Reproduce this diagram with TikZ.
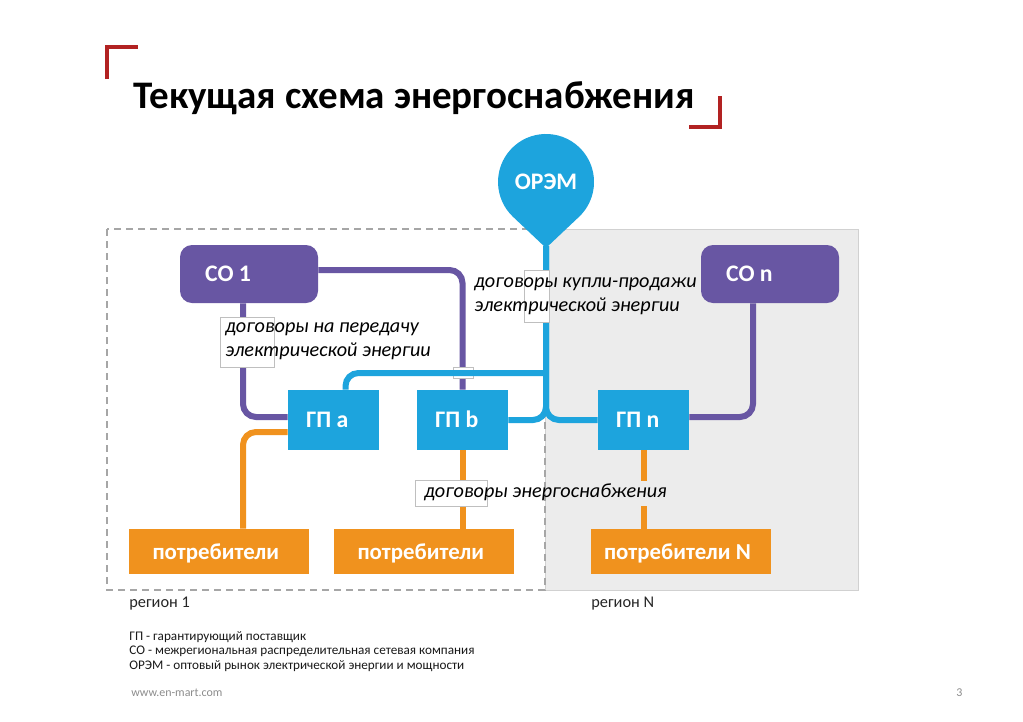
\documentclass[tikz,border=0pt]{standalone}
\usepackage{fontspec}
\setmainfont{Carlito}
\usetikzlibrary{positioning}

\definecolor{copurple}{RGB}{104,86,163}
\definecolor{gpblue}{RGB}{29,164,221}
\definecolor{consorange}{RGB}{240,146,30}
\definecolor{regiongray}{RGB}{236,236,236}
\definecolor{cornerred}{RGB}{178,34,34}

\tikzset{
  boxfont/.style={text=white, font=\fontsize{13.5}{15}\selectfont\bfseries, text height=8.7pt, text depth=0pt},
  cobox/.style={boxfont, fill=copurple, rounded corners=2.4mm, minimum height=11.6mm,
    inner xsep=5mm, text width=17.6mm, align=flush left},
  gpbox/.style={boxfont, fill=gpblue, minimum height=12mm,
    inner xsep=3.6mm, text width=11mm, align=flush left},
  consbox/.style={boxfont, font=\fontsize{13}{15}\selectfont\bfseries, fill=consorange, minimum height=9mm,
    inner xsep=4.8mm, text width=26.4mm, align=flush left},
  pline/.style={draw=copurple, line width=1.2mm, rounded corners=2.6mm},
  bline/.style={draw=gpblue, line width=1.2mm, rounded corners=2.6mm},
  oline/.style={draw=consorange, line width=1.2mm, rounded corners=2.6mm},
  tagbox/.style={fill=white, draw=black!25, line width=0.2mm},
  deal/.style={font=\fontsize{11.5}{13.6}\selectfont\itshape, align=flush left, anchor=west, inner sep=0pt},
  regionlabel/.style={font=\fontsize{9.3}{11}\selectfont, text=black!85, anchor=base west, inner sep=0pt},
}

\begin{document}
\begin{tikzpicture}[x=0.2mm, y=-0.2mm]
  % page
  \fill[white] (0,0) rectangle (1023,721);
  \useasboundingbox (0,0) rectangle (1023,721);

  % corners and title
  \draw[cornerred, line width=0.7mm] (107,79) -- (107,47) -- (138,47);
  \draw[cornerred, line width=0.7mm] (689,127) -- (720,127) -- (720,96);
  \node[font=\fontsize{22.2}{26}\selectfont\bfseries, anchor=base west, inner sep=0pt] (title) at (133,108) {Текущая схема энергоснабжения};

  % regions
  \draw[fill=regiongray, draw=black!18, line width=0.2mm] (545,229) rectangle (858,590);
  \draw[black!35, line width=0.25mm, dash pattern=on 1.4mm off 1mm] (107,229) rectangle (545,590);
  \node[regionlabel] (region1) at (129,607) {регион 1};
  \node[regionlabel] (regionN) at (591,607) {регион N};

  % market drop
  \fill[gpblue] (546,248) -- (513.1,216.9) arc[start angle=133.3, end angle=406.7, radius=48] -- cycle;
  \node[boxfont] (orem) at (546,182) {ОРЭМ};
  \coordinate (oremtip) at (546,246);
  \coordinate (split) at (546,373);

  % boxes
  \node[cobox] (co1) at (249,274) {СО 1};
  \node[cobox] (con) at (770,274) {СО n};
  \node[gpbox] (gpa) at (333.5,420) {ГП a};
  \node[gpbox] (gpb) at (462.5,420) {ГП b};
  \node[gpbox] (gpn) at (643.5,420) {ГП n};
  \node[consbox] (cons1) at (218.5,551.5) {потребители};
  \node[consbox] (cons2) at (423.5,551.5) {потребители};
  \node[consbox, inner xsep=2.6mm, text width=30.8mm] (cons3) at (681,551.5) {потребители N};

  % grid contracts
  \draw[pline] ([xshift=-1.2mm]co1.south) |- ([yshift=0.6mm]gpa.west);
  \draw[pline] ([yshift=0.8mm]co1.east) -| (gpb.north);
  \draw[pline] ([xshift=-3.4mm]con.south) |- ([yshift=0.6mm]gpn.east);

  % supply contracts
  \draw[oline] ([yshift=-2.4mm]gpa.west) -| ([xshift=4.9mm]cons1.north);
  \draw[oline] (gpb.south) -- (gpb.south |- cons2.north);
  \draw[oline] (gpn.south) -- (gpn.south |- cons3.north);
  \fill[regiongray] (636,481) rectangle (651,506);

  % market contracts
  \draw[tagbox] (453,367) rectangle (473,378);
  \draw[bline] (oremtip) |- (gpb.east);
  \draw[bline] (oremtip) |- (gpn.west);
  \draw[bline] (split) -| ([xshift=2.4mm]gpa.north);

  % labels
  \draw[tagbox] (220,317) rectangle (274,367);
  \draw[tagbox] (524,270) rectangle (549,322);
  \draw[tagbox] (415,480) rectangle (487,506);
  \node[deal] (dealgrid) at (225,341) {договоры на передачу\\электрической энергии};
  \node[deal] (dealmarket) at (474,296) {договоры купли-продажи\\электрической энергии};
  \node[deal] (dealsupply) at (424,492) {договоры энергоснабжения};

  % legend
  \node[font=\fontsize{7.5}{8.2}\selectfont, text=black!90, align=left, anchor=north west, inner sep=0pt] (legend) at (129,631)
    {ГП - гарантирующий поставщик\\СО - межрегиональная распределительная сетевая компания\\ОРЭМ - оптовый рынок электрической энергии и мощности};
  \node[font=\fontsize{6.8}{8}\selectfont, text=black!45, anchor=base west, inner sep=0pt] (site) at (131,696) {www.en-mart.com};
  \node[font=\fontsize{6.8}{8}\selectfont, text=black!45, anchor=base west, inner sep=0pt] (page) at (956,696) {3};
\end{tikzpicture}
\end{document}
